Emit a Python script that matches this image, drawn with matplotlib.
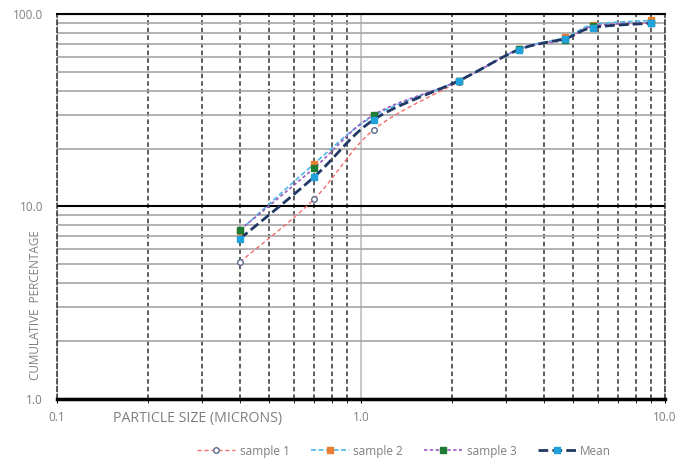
import numpy as np
import matplotlib.pyplot as plt
from matplotlib.ticker import FixedLocator, FixedFormatter, NullFormatter

size = [0.4, 0.7, 1.1, 2.1, 3.3, 4.7, 5.8, 9.0]
sample_1 = [5.15, 10.9, 25.0, 44.5, 65.0, 75.0, 86.0, 89.5]
sample_2 = [7.5, 16.6, 29.5, 45.0, 65.5, 75.5, 88.0, 92.5]
sample_3 = [7.55, 15.8, 29.9, 45.0, 65.5, 73.5, 86.5, 90.0]
mean = [6.8, 14.2, 28.2, 45.0, 65.2, 74.5, 85.0, 89.5]

x_ticks = [0.1, 1.0, 10.0]
x_labels = ["0.1", "1.0", "10.0"]
y_ticks = [1.0, 10.0, 100.0]
y_labels = ["1.0", "10.0", "100.0"]

GREY = "#7f7f7f"
N = 20


def smooth(x, y, n=N):
    # Excel-like smoothed line: Catmull-Rom through the points in log-log space
    P = np.column_stack([np.log10(x), np.log10(y)])
    P = np.vstack([P[0], P, P[-1]])
    t = np.linspace(0, 1, n, endpoint=False)[:, None]
    pts = []
    for i in range(1, len(P) - 2):
        p0, p1, p2, p3 = P[i - 1:i + 3]
        pts.append(0.5 * (2 * p1 + (p2 - p0) * t
                          + (2 * p0 - 5 * p1 + 4 * p2 - p3) * t ** 2
                          + (-p0 + 3 * p1 - 3 * p2 + p3) * t ** 3))
    pts.append(P[-2][None])
    pts = np.vstack(pts)
    return 10 ** pts[:, 0], 10 ** pts[:, 1]


plt.rcParams["font.family"] = ["Open Sans", "DejaVu Sans"]

fig = plt.figure(figsize=(6.76, 4.66), dpi=100)
ax = fig.add_axes([0.0843, 0.1438, 0.8994, 0.8262])

series = [
    ("sample 1", sample_1, "#f4706c", 1.0, (3, 2),
     dict(marker="o", markersize=4, markerfacecolor="white", markeredgecolor="#5a6b8c", markeredgewidth=1)),
    ("sample 2", sample_2, "#4fb8e8", 1.2, (3, 1.5),
     dict(marker="s", markersize=5, markerfacecolor="#ed7d31", markeredgecolor="#ed7d31")),
    ("sample 3", sample_3, "#9a5cc0", 1.2, (2, 1.5),
     dict(marker="s", markersize=5, markerfacecolor="#1e7b34", markeredgecolor="#1e7b34")),
    ("Mean", mean, "#1f3864", 2.0, (3.5, 1.5),
     dict(marker="s", markersize=5, markerfacecolor="#1fa2dc", markeredgecolor="#1fa2dc")),
]

for label, vals, color, lw, dash, mk in series:
    sx, sy = smooth(size, vals)
    ax.plot(sx, sy, color=color, lw=lw, dashes=dash, markevery=N, label=label, zorder=3, **mk)

ax.set_xscale("log")
ax.set_yscale("log")
ax.set_xlim(0.1, 10)
ax.set_ylim(1, 100)

ax.xaxis.set_major_locator(FixedLocator(x_ticks))
ax.xaxis.set_major_formatter(FixedFormatter(x_labels))
ax.xaxis.set_minor_locator(FixedLocator([d * m for d in (0.1, 1) for m in range(2, 10)]))
ax.xaxis.set_minor_formatter(NullFormatter())
ax.yaxis.set_major_locator(FixedLocator(y_ticks))
ax.yaxis.set_major_formatter(FixedFormatter(y_labels))
ax.yaxis.set_minor_locator(FixedLocator([d * m for d in (1, 10) for m in range(2, 10)]))
ax.yaxis.set_minor_formatter(NullFormatter())

ax.grid(axis="x", which="minor", color="#303030", lw=1.1, ls=(0, (3, 2)))
ax.grid(axis="x", which="major", color="#c8c8c8", lw=1.5)
ax.grid(axis="y", which="minor", color="#a6a6a6", lw=1.2)
ax.grid(axis="y", which="major", color="black", lw=1.5)

for side in ("left", "right"):
    ax.spines[side].set_linestyle((0, (3, 2)))
    ax.spines[side].set_color("#303030")
    ax.spines[side].set_linewidth(1.1)
ax.spines["top"].set_color("black")
ax.spines["top"].set_linewidth(1.5)
ax.spines["bottom"].set_linewidth(2.5)

ax.tick_params(axis="x", which="both", direction="out", length=3, color="black",
               labelsize=8.5, labelcolor=GREY, pad=6)
ax.tick_params(axis="y", which="both", length=0, labelsize=8.5, labelcolor=GREY, pad=10)

fig.text(0.052, 0.345, "CUMULATIVE  PERCENTAGE", rotation=90, ha="center", va="center",
         color=GREY, fontsize=8.5)
fig.text(0.292, 0.103, "PARTICLE SIZE (MICRONS)", ha="center", va="center",
         color=GREY, fontsize=10.2)

fig.legend(loc="center", bbox_to_anchor=(0.598, 0.032), ncol=4, frameon=False,
           fontsize=8.5, labelcolor=GREY, handlelength=3.2, columnspacing=1.8,
           handletextpad=0.4, numpoints=1)

fig.savefig("out.png", dpi=100)
